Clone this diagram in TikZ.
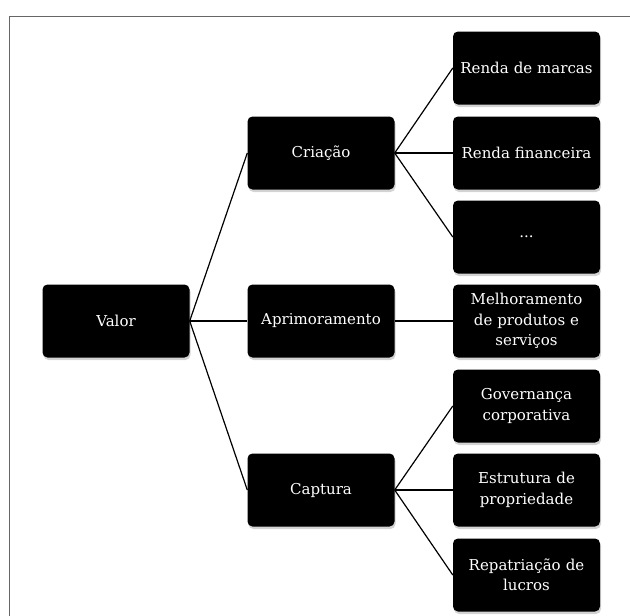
\documentclass[tikz,border=0pt]{standalone}
\usepackage{fontspec}
\setmainfont{DejaVu Serif}
\usetikzlibrary{shadows}
\begin{document}
\begin{tikzpicture}[x=1pt,y=-1pt,
  box/.style={fill=black, text=white, rounded corners=5pt, minimum width=147pt, minimum height=73pt,
    inner sep=2pt, align=center, text width=143pt, font=\fontsize{15}{20.5}\selectfont,
    drop shadow={opacity=0.35, shadow xshift=1pt, shadow yshift=-2.5pt}},
  link/.style={draw=black, line width=1.2pt}]
\useasboundingbox (0,0) rectangle (630,616);
\draw[gray!80!black, line width=0.8pt] (9,616) coordinate (fl) -- (9,16.5) coordinate (fc) -- (630,16.5) coordinate (fr);
\node[box] (valor) at (116,321) {Valor};
\node[box] (cri) at (321,153) {Criação};
\node[box] (apr) at (321,321) {Aprimoramento};
\node[box] (cap) at (321,490) {Captura};
\node[box] (r1) at (526.5,68) {Renda de marcas};
\node[box] (r2) at (526.5,153) {Renda financeira};
\node[box] (r3) at (526.5,237) {...};
\node[box] (r4) at (526.5,321) {Melhoramento\\de produtos e\\serviços};
\node[box] (r5) at (526.5,406) {Governança\\corporativa};
\node[box] (r6) at (526.5,490) {Estrutura de\\propriedade};
\node[box] (r7) at (526.5,575) {Repatriação de\\lucros};
\foreach \t in {cri,apr,cap} \draw[link] (valor.east) -- (\t.west);
\foreach \t in {r1,r2,r3} \draw[link] (cri.east) -- (\t.west);
\draw[link] (apr.east) -- (r4.west);
\foreach \t in {r5,r6,r7} \draw[link] (cap.east) -- (\t.west);
\end{tikzpicture}
\end{document}
